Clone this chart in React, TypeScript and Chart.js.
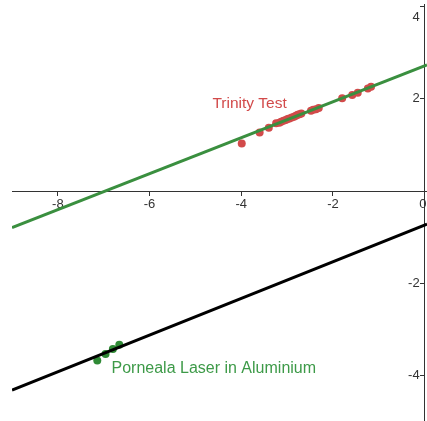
import React, { useEffect, useRef } from "react";
import { Chart, registerables } from "chart.js";

Chart.register(...registerables);

// Trinity Test measurements (red points)
const trinityX = [-3.99, -3.6, -3.4, -3.24, -3.17, -3.13, -3.08, -3.03, -2.99, -2.95, -2.9, -2.85, -2.81, -2.77, -2.73, -2.69, -2.48, -2.43, -2.37, -2.31, -1.8, -1.58, -1.46, -1.24, -1.17];
const trinityY = [1.03, 1.27, 1.37, 1.47, 1.48, 1.5, 1.52, 1.54, 1.56, 1.57, 1.59, 1.61, 1.63, 1.65, 1.66, 1.68, 1.74, 1.76, 1.77, 1.8, 2.01, 2.08, 2.13, 2.22, 2.26];

// Porneala Laser in Aluminium measurements (green points)
const pornealaX = [-7.14, -6.96, -6.8, -6.66];
const pornealaY = [-3.67, -3.53, -3.42, -3.33];

// Fit lines (end points)
const trinityLineX = [-9, 0.05];
const trinityLineY = [-0.79, 2.73];
const pornealaLineX = [-9, 0.05];
const pornealaLineY = [-4.31, -0.716];

// Text labels
const labelTexts = ["Trinity Test", "Porneala Laser in Aluminium"];
const labelX = [-4.63, -6.83];
const labelY = [1.79, -3.94];

const X_MIN = -9;
const X_MAX = 0.05;
const Y_MIN = -4.98;
const Y_MAX = 4.05;

const FONT = '"Liberation Sans", Arial, sans-serif';
const AXIS_COLOR = "#333333";
const RED = "#d24a4a";
const GREEN_LINE = "#3a8f3f";
const GREEN_POINT = "#2f8a35";
const GREEN_TEXT = "#3d9a48";
const labelColors = [RED, GREEN_TEXT];
const labelSizes = [15.5, 16];

// Chart.js keeps a minimum padding equal to the point radius (4px) on every side,
// so the canvas is made 4px larger and the extra strip is hidden by the wrapper.
const VIEW_W = 427;
const VIEW_H = 421;
const OVERFLOW = 4;

const toPoints = (xs: number[], ys: number[]) => xs.map((x, i) => ({ x, y: ys[i] }));

const zeroPadding = (s: any) => {
  s.paddingLeft = 0;
  s.paddingRight = 0;
  s.paddingTop = 0;
  s.paddingBottom = 0;
};

const textPlugin = {
  id: "textLabels",
  afterDatasetsDraw(chart: any) {
    const { ctx, scales } = chart;
    ctx.save();
    labelTexts.forEach((t, i) => {
      ctx.font = `${labelSizes[i]}px ${FONT}`;
      ctx.fillStyle = labelColors[i];
      ctx.textAlign = "left";
      ctx.textBaseline = "alphabetic";
      ctx.fillText(t, scales.x.getPixelForValue(labelX[i]), scales.y.getPixelForValue(labelY[i]));
    });
    ctx.restore();
  },
};

export default function App() {
  const ref = useRef<HTMLCanvasElement>(null);

  useEffect(() => {
    if (!ref.current) return;
    const lineDefaults = {
      type: "line",
      borderWidth: 3,
      pointRadius: 0,
      pointHoverRadius: 0,
      pointBorderWidth: 0,
      pointHoverBorderWidth: 0,
      fill: false,
      tension: 0,
    };
    const pointDefaults = {
      pointRadius: 4,
      pointHoverRadius: 4,
      pointBorderWidth: 0,
      pointHoverBorderWidth: 0,
      borderWidth: 0,
    };
    const chart = new Chart(ref.current, {
      type: "scatter",
      data: {
        datasets: [
          {
            ...lineDefaults,
            label: "Trinity fit",
            data: toPoints(trinityLineX, trinityLineY),
            borderColor: GREEN_LINE,
          },
          {
            ...lineDefaults,
            label: "Porneala fit",
            data: toPoints(pornealaLineX, pornealaLineY),
            borderColor: "#000000",
          },
          {
            ...pointDefaults,
            label: "Trinity Test",
            data: toPoints(trinityX, trinityY),
            backgroundColor: RED,
            borderColor: RED,
          },
          {
            ...pointDefaults,
            label: "Porneala Laser in Aluminium",
            data: toPoints(pornealaX, pornealaY),
            backgroundColor: GREEN_POINT,
            borderColor: GREEN_POINT,
          },
        ] as any,
      },
      options: {
        responsive: false,
        animation: false,
        events: [],
        layout: { padding: { left: 12, top: 4, right: 0, bottom: 0 } },
        plugins: { legend: { display: false }, tooltip: { enabled: false } },
        scales: {
          x: {
            type: "linear",
            min: X_MIN,
            max: X_MAX,
            position: { y: 0 } as any,
            border: { display: true, color: AXIS_COLOR, width: 1 },
            grid: { display: true, drawOnChartArea: false, drawTicks: true, tickLength: 4, color: AXIS_COLOR },
            ticks: {
              stepSize: 2,
              includeBounds: false,
              autoSkip: false,
              maxRotation: 0,
              padding: 1.5,
              color: AXIS_COLOR,
              font: { family: FONT, size: 13 },
              callback: (v: any) => (Number(v) === 0 ? "0 " : String(v)),
            },
            afterFit: zeroPadding,
          },
          y: {
            type: "linear",
            min: Y_MIN,
            max: Y_MAX,
            position: { x: 0 } as any,
            border: { display: true, color: AXIS_COLOR, width: 1 },
            grid: { display: true, drawOnChartArea: false, drawTicks: true, tickLength: 4, color: AXIS_COLOR },
            ticks: { stepSize: 2, includeBounds: false, display: false },
            afterFit: zeroPadding,
          },
          yLabels: {
            type: "linear",
            axis: "y",
            min: Y_MIN,
            max: Y_MAX,
            position: { x: -0.11 } as any,
            border: { display: false },
            grid: { display: false },
            ticks: {
              stepSize: 2,
              includeBounds: false,
              autoSkip: false,
              color: AXIS_COLOR,
              font: { family: FONT, size: 13, lineHeight: 1.74 },
              callback: (v: any) => {
                const n = Number(v);
                if (n === 0) return "";
                if (n === 4) return ["", "4"];
                return String(n);
              },
            },
            afterFit: zeroPadding,
          },
        } as any,
      },
      plugins: [textPlugin],
    });
    return () => chart.destroy();
  }, []);

  return (
    <div
      style={{
        position: "fixed",
        left: 0,
        top: 0,
        width: VIEW_W,
        height: VIEW_H,
        overflow: "hidden",
        background: "#ffffff",
      }}
    >
      <canvas ref={ref} width={VIEW_W + OVERFLOW} height={VIEW_H + OVERFLOW} style={{ display: "block" }} />
    </div>
  );
}
